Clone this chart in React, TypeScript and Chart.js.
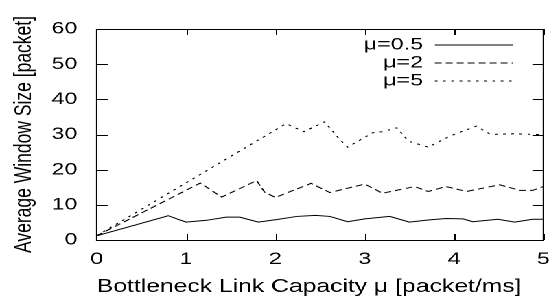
import React, { useEffect, useRef } from 'react';
import { Chart, registerables } from 'chart.js';

Chart.register(...registerables);

// ---- data ----
const seriesLabels = ['μ=0.5', 'μ=2', 'μ=5'];

const mu05X = [0, 0.8, 1.0, 1.23, 1.45, 1.6, 1.81, 2.01, 2.24, 2.45, 2.61, 2.81, 3.0, 3.28, 3.5, 3.71, 3.91, 4.1, 4.21, 4.49, 4.68, 4.88, 5.0];
const mu05Y = [1.2, 6.9, 5.1, 5.6, 6.5, 6.5, 5.1, 5.8, 6.7, 7.0, 6.7, 5.2, 6.0, 6.7, 5.1, 5.7, 6.1, 6.0, 5.2, 5.9, 5.1, 5.9, 5.9];

const mu2X = [0, 1.16, 1.4, 1.79, 1.88, 2.0, 2.4, 2.61, 3.0, 3.2, 3.56, 3.71, 3.91, 4.14, 4.51, 4.74, 4.88, 5.0];
const mu2Y = [1.2, 16.2, 12.2, 16.9, 13.6, 12.1, 16.1, 13.5, 15.9, 13.3, 15.2, 13.8, 15.2, 13.8, 15.7, 14.1, 14.1, 15.2];

const mu5X = [0, 2.12, 2.32, 2.55, 2.72, 2.81, 3.09, 3.2, 3.36, 3.49, 3.71, 3.95, 4.25, 4.41, 4.66, 4.94, 5.0];
const mu5Y = [1.2, 33.1, 30.8, 33.6, 28.6, 26.4, 30.5, 30.8, 31.9, 28.1, 26.4, 29.5, 32.4, 30.0, 30.2, 30.0, 30.0];

const xMin = 0;
const xMax = 5;
const xStep = 1;
const yMin = 0;
const yMax = 60;
const yStep = 10;

const xTitle = 'Bottleneck Link Capacity μ [packet/ms]';
const yTitle = 'Average Window Size [packet]';

// ---- layout / style ----
const STRETCH = 1.3725; // the reference is horizontally stretched
const CW = 400;
const CH = 302;
const FONT = 'Liberation Sans, Arial, Helvetica, sans-serif';

const toPoints = (xs: number[], ys: number[]) => xs.map((x, i) => ({ x, y: ys[i] }));

const framePlugin = {
  id: 'frameTicks',
  afterDatasetsDraw(chart: any) {
    const { ctx, chartArea: a, scales } = chart;
    const xs = scales.x;
    const ys = scales.y;
    ctx.save();
    ctx.strokeStyle = '#000';
    ctx.lineWidth = 1;
    ctx.setLineDash([]);
    ctx.beginPath();
    xs.ticks.forEach((t: any) => {
      const px = Math.round(xs.getPixelForValue(t.value)) + 0.5;
      ctx.moveTo(px, a.bottom);
      ctx.lineTo(px, a.bottom - 6);
      ctx.moveTo(px, a.top);
      ctx.lineTo(px, a.top + 6);
    });
    ys.ticks.forEach((t: any) => {
      const py = Math.round(ys.getPixelForValue(t.value)) + 0.5;
      ctx.moveTo(a.left, py);
      ctx.lineTo(a.left + 8, py);
      ctx.moveTo(a.right, py);
      ctx.lineTo(a.right - 8, py);
    });
    ctx.stroke();
    ctx.strokeRect(a.left, Math.round(a.top) + 0.5, a.right - a.left, Math.round(a.bottom) - Math.round(a.top));
    ctx.restore();
  },
};

const legendPlacePlugin = {
  id: 'legendPlace',
  afterLayout(chart: any) {
    const lg = chart.legend;
    if (!lg) return;
    const R = 374.8;
    lg.left = R - lg.width;
    lg.right = R;
    lg.top = 35.5;
    lg.height = 200;
    lg.bottom = lg.top + lg.height;
  },
};

export default function App() {
  const ref = useRef<HTMLCanvasElement | null>(null);

  useEffect(() => {
    if (!ref.current) return;
    const chart = new Chart(ref.current, {
      type: 'line',
      data: {
        datasets: [
          {
            label: seriesLabels[0],
            data: toPoints(mu05X, mu05Y),
            borderColor: '#000',
            backgroundColor: '#000',
            borderWidth: 1,
            pointRadius: 0,
            tension: 0,
          },
          {
            label: seriesLabels[1],
            data: toPoints(mu2X, mu2Y),
            borderColor: '#000',
            backgroundColor: '#000',
            borderWidth: 1,
            borderDash: [5, 3],
            pointRadius: 0,
            tension: 0,
          },
          {
            label: seriesLabels[2],
            data: toPoints(mu5X, mu5Y),
            borderColor: '#000',
            backgroundColor: '#000',
            borderWidth: 1,
            borderDash: [2, 4],
            pointRadius: 0,
            tension: 0,
          },
        ],
      },
      options: {
        animation: false,
        responsive: false,
        devicePixelRatio: 2,
        layout: { padding: { left: 0, right: 4.1, top: 29, bottom: 4 } },
        plugins: {
          tooltip: { enabled: false },
          legend: {
            position: 'chartArea' as any,
            align: 'start',
            rtl: true,
            labels: {
              usePointStyle: true,
              pointStyle: 'line',
              pointStyleWidth: 57,
              padding: 1,
              textAlign: 'left',
              color: '#000',
              font: { family: FONT, size: 17 },
              generateLabels: (c: any) =>
                Chart.defaults.plugins.legend.labels.generateLabels(c).map((item: any) => ({
                  ...item,
                  lineDash: c.data.datasets[item.datasetIndex].borderDash || [],
                  lineWidth: 1,
                  strokeStyle: '#000',
                })),
            },
          },
        },
        scales: {
          x: {
            type: 'linear',
            min: xMin,
            max: xMax,
            ticks: {
              stepSize: xStep,
              color: '#000',
              padding: 9,
              maxRotation: 0,
              font: { family: FONT, size: 17 },
            },
            grid: { display: false, drawTicks: false },
            border: { display: false },
            title: {
              display: true,
              text: xTitle,
              align: 'start',
              color: '#000',
              font: { family: FONT, size: 18 },
              padding: { top: 0, bottom: 0 },
            },
            afterFit: (s: any) => {
              s.height = 58;
              s.paddingLeft = 0;
              s.paddingRight = 0;
            },
          },
          y: {
            type: 'linear',
            min: yMin,
            max: yMax,
            ticks: {
              stepSize: yStep,
              color: '#000',
              padding: 14,
              font: { family: FONT, size: 17 },
            },
            grid: { display: false, drawTicks: false },
            border: { display: false },
            title: {
              display: true,
              text: yTitle,
              color: '#000',
              font: { family: FONT, size: 17.5 },
              padding: { top: 7, bottom: 0 },
            },
            afterFit: (s: any) => {
              s.width = 70.45;
              s.paddingTop = 0;
              s.paddingBottom = 0;
            },
          },
        },
      },
      plugins: [framePlugin, legendPlacePlugin],
    } as any);
    return () => chart.destroy();
  }, []);

  return (
    <div
      style={{
        position: 'absolute',
        left: 0,
        top: 0,
        width: CW,
        height: CH,
        transform: `scaleX(${STRETCH})`,
        transformOrigin: '0 0',
        background: '#fff',
      }}
    >
      <canvas ref={ref} width={CW} height={CH} />
    </div>
  );
}
